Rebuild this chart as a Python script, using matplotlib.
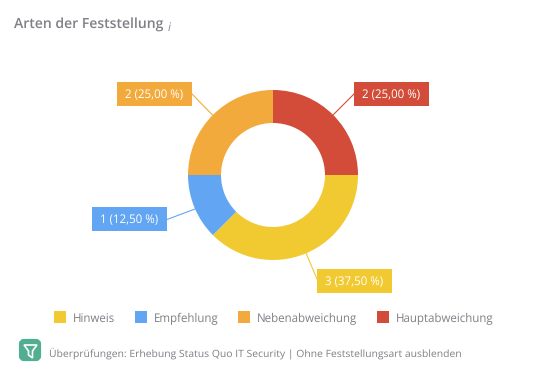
import matplotlib
matplotlib.use('Agg')
import matplotlib.pyplot as plt
from matplotlib.patches import FancyBboxPatch, Polygon, Rectangle

plt.rcParams['font.family'] = ['Open Sans', 'DejaVu Sans']
plt.rcParams['text.hinting'] = 'no_hinting'

categories = ['Hinweis', 'Empfehlung', 'Nebenabweichung', 'Hauptabweichung']
values = [3, 1, 2, 2]
colors = ['#F1CA32', '#62A6F3', '#F3AA3C', '#D24C39']
percent = ['37,50', '12,50', '25,00', '25,00']

W, H = 537, 369
fig = plt.figure(figsize=(W / 100, H / 100), dpi=100)

# overlay in pixel coords, for labels and legend
ov = fig.add_axes([0, 0, 1, 1])
ov.set_xlim(0, W)
ov.set_ylim(H, 0)
ov.axis('off')

# donut
cx, cy, r = 273, 175, 85
ax = fig.add_axes([(cx - r) / W, 1 - (cy + r) / H, 2 * r / W, 2 * r / H])
ax.pie(values, colors=colors, startangle=0, counterclock=False, radius=1,
       wedgeprops=dict(width=33 / 85, linewidth=0))
ax.set_xlim(-1, 1)
ax.set_ylim(-1, 1)

# box left/top and leader line for each slice
box_x = [317, 92, 117, 354]
box_y = [269, 207, 82, 82]
lines = [((306, 253), (317, 279)), ((195, 209), (167, 219.5)),
         ((212.5, 115), (192, 94)), ((333, 115), (354, 94))]
for i in range(4):
    ov.plot(*zip(*lines[i]), color=colors[i], lw=0.8)
    ov.add_patch(Rectangle((box_x[i], box_y[i]), 75, 24, color=colors[i], lw=0))
    ov.text(box_x[i] + 37, box_y[i] + 12, f'{values[i]} ({percent[i]} %)', color='white',
            fontsize=8.3, ha='center', va='center_baseline')

# title
ov.text(14, 23, 'Arten der Feststellung', color='#7F7F86', fontsize=10.1, weight=600,
        ha='left', va='center_baseline')
ov.text(168, 26, 'i', color='#7F8FA0', fontsize=8.5, style='italic', ha='left', va='center_baseline')

# legend
leg_x = [54, 135, 238, 377]
for i in range(4):
    ov.add_patch(Rectangle((leg_x[i], 311), 12, 12, color=colors[i], lw=0))
    ov.text(leg_x[i] + 19, 317.5, categories[i], color='#7F7F86', fontsize=8.3,
            ha='left', va='center_baseline')

# filter icon and footer
ov.add_patch(FancyBboxPatch((21, 341), 18, 18, boxstyle='round,pad=0,rounding_size=3',
                            mutation_aspect=1, fc='#52AE91', ec='#52AE91', lw=3))
ov.add_patch(Polygon([(24, 345), (37, 345), (32.5, 351), (32.5, 358), (28.5, 355), (28.5, 351)],
                     closed=True, fc='none', ec='white', lw=1.2))
ov.text(49, 352, 'Überprüfungen: Erhebung Status Quo IT Security | Ohne Feststellungsart ausblenden',
        color='#7F7F86', fontsize=7.47, ha='left', va='center_baseline')

fig.savefig('out.png', dpi=100, facecolor='white')
